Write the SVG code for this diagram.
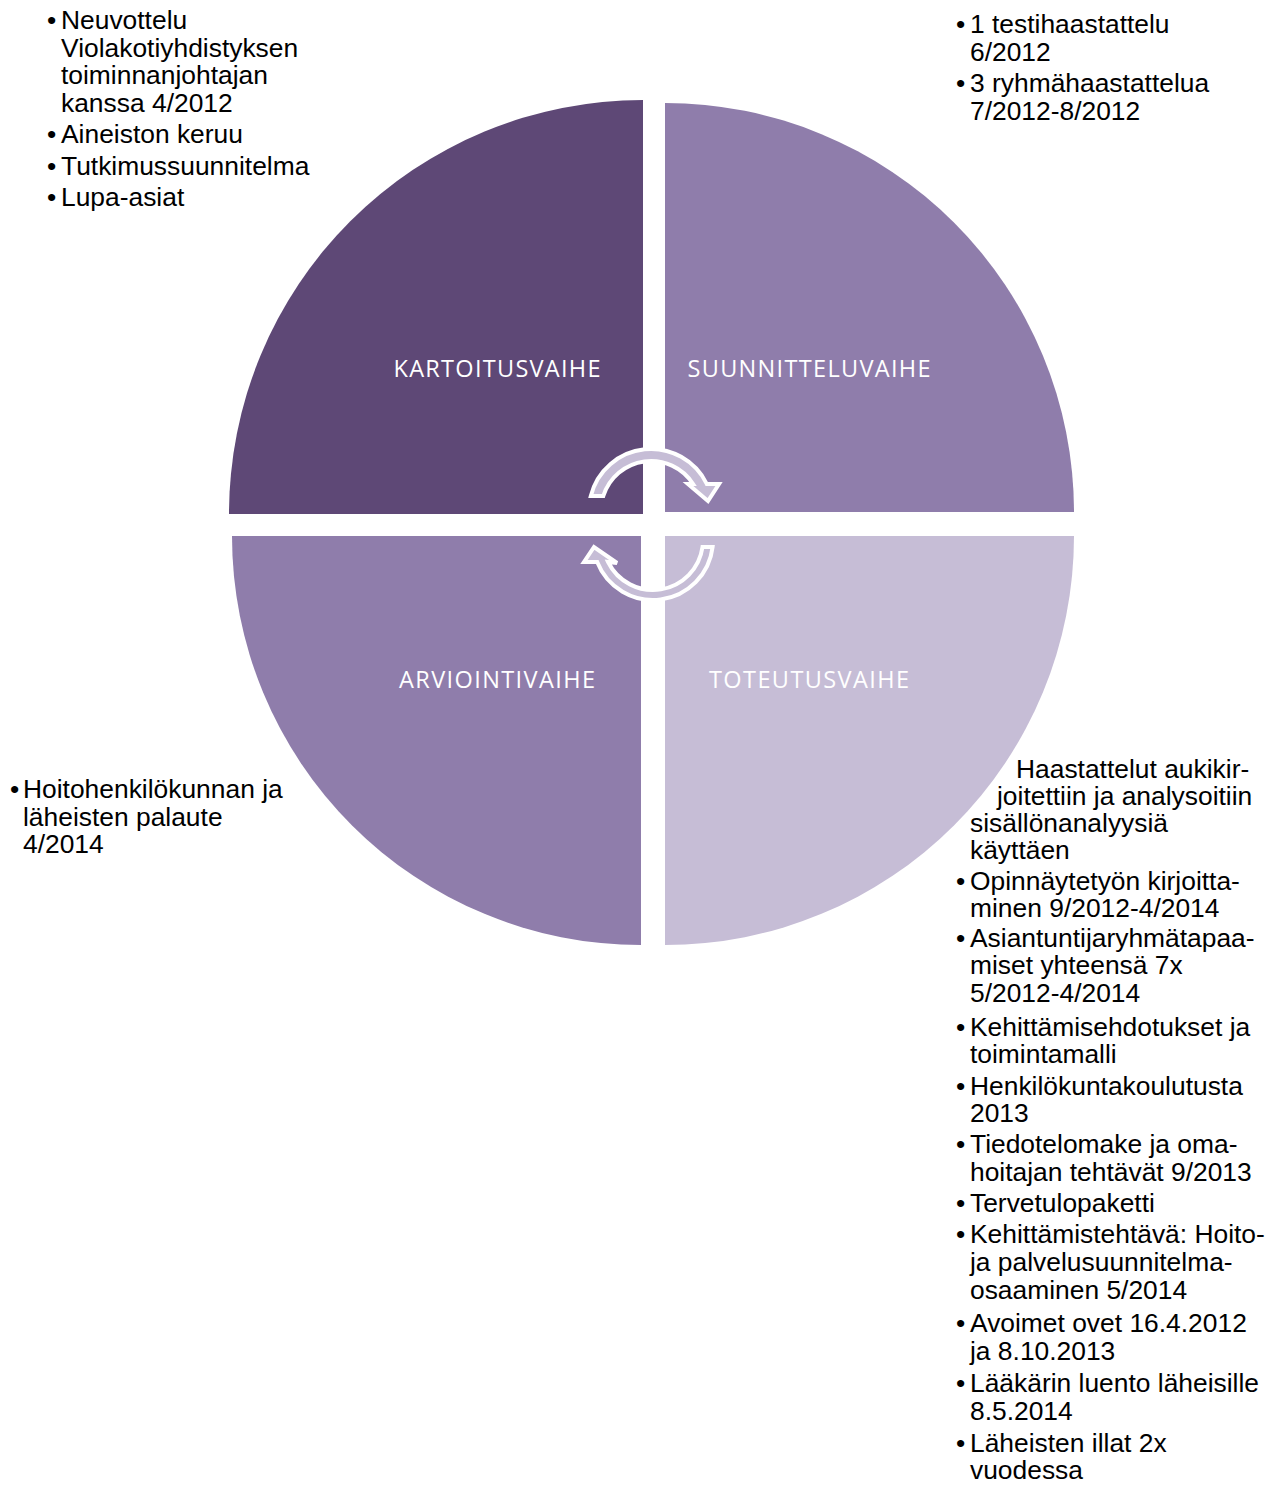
<svg xmlns="http://www.w3.org/2000/svg" width="1270" height="1485" viewBox="0 0 1270 1485">
<style>
.dark{fill:#5E4876}
.mid{fill:#8F7DAB}
.light{fill:#C6BDD6}
.lbl{font-family:"Open Sans","Noto Sans",sans-serif;font-size:23.5px;fill:#FFFFFF;text-anchor:middle}
.txt{font-family:"Liberation Sans",Arial,sans-serif;font-size:26.4px;fill:#000000}
.arrow{fill:#C6BDD6;stroke:#FFFFFF;stroke-width:4;stroke-linejoin:miter}
</style>
<rect x="0" y="0" width="1270" height="1485" fill="#FFFFFF"/>
<g id="kartoitusvaihe">
<path class="dark" d="M643,514 L229,514 A414,414 0 0 1 643,100 Z"/>
<text class="lbl" x="497" y="377" textLength="207" lengthAdjust="spacing">KARTOITUSVAIHE</text>
</g>
<g id="suunnitteluvaihe">
<path class="mid" d="M665,512 L665,103 A409,409 0 0 1 1074,512 Z"/>
<text class="lbl" x="809" y="377" textLength="243" lengthAdjust="spacing">SUUNNITTELUVAIHE</text>
</g>
<g id="toteutusvaihe">
<path class="light" d="M665,536 L1074,536 A409,409 0 0 1 665,945 Z"/>
<text class="lbl" x="809" y="688" textLength="200" lengthAdjust="spacing">TOTEUTUSVAIHE</text>
</g>
<g id="arviointivaihe">
<path class="mid" d="M641,536 L641,945 A409,409 0 0 1 232,536 Z"/>
<text class="lbl" x="497" y="688" textLength="196" lengthAdjust="spacing">ARVIOINTIVAIHE</text>
</g>
<g id="connectors">
<path class="arrow" d="M590.8,496 A62,62 0 0 1 706.8,484 L719,484 L708,501 L688,484 L693.1,484 A50,50 0 0 0 603.3,496 Z"/>
<path class="arrow" d="M712.6,547 A60,60 0 0 1 597.2,562 L584,562 L594,547 L617,563 L608.1,562 A50,50 0 0 0 702.5,547 Z"/>
</g>
<g id="kartoitus-notes" class="txt">
<text x="47" y="29">•</text><text x="61" y="29">Neuvottelu</text>
<text x="61" y="57">Violakotiyhdistyksen</text>
<text x="61" y="84">toiminnanjohtajan</text>
<text x="61" y="112">kanssa 4/2012</text>
<text x="47" y="143">•</text><text x="61" y="143">Aineiston keruu</text>
<text x="47" y="175">•</text><text x="61" y="175">Tutkimussuunnitelma</text>
<text x="47" y="206">•</text><text x="61" y="206">Lupa-asiat</text>
</g>
<g id="suunnittelu-notes" class="txt">
<text x="956" y="33">•</text><text x="970" y="33">1 testihaastattelu</text>
<text x="970" y="61">6/2012</text>
<text x="956" y="92">•</text><text x="970" y="92">3 ryhmähaastattelua</text>
<text x="970" y="120">7/2012-8/2012</text>
</g>
<g id="arviointi-notes" class="txt">
<text x="10" y="798">•</text><text x="23" y="798">Hoitohenkilökunnan ja</text>
<text x="23" y="826">läheisten palaute</text>
<text x="23" y="853">4/2014</text>
</g>
<g id="toteutus-notes" class="txt">
<text x="1016" y="778">Haastattelut aukikir-</text>
<text x="997" y="805">joitettiin ja analysoitiin</text>
<text x="970" y="832">sisällönanalyysiä</text>
<text x="970" y="859">käyttäen</text>
<text x="956" y="890">•</text><text x="970" y="890">Opinnäytetyön kirjoitta-</text>
<text x="970" y="917">minen 9/2012-4/2014</text>
<text x="956" y="947">•</text><text x="970" y="947">Asiantuntijaryhmätapaa-</text>
<text x="970" y="974">miset yhteensä 7x</text>
<text x="970" y="1002">5/2012-4/2014</text>
<text x="956" y="1036">•</text><text x="970" y="1036">Kehittämisehdotukset ja</text>
<text x="970" y="1063">toimintamalli</text>
<text x="956" y="1095">•</text><text x="970" y="1095">Henkilökuntakoulutusta</text>
<text x="970" y="1122">2013</text>
<text x="956" y="1153">•</text><text x="970" y="1153">Tiedotelomake ja oma-</text>
<text x="970" y="1181">hoitajan tehtävät 9/2013</text>
<text x="956" y="1212">•</text><text x="970" y="1212">Tervetulopaketti</text>
<text x="956" y="1243">•</text><text x="970" y="1243">Kehittämistehtävä: Hoito-</text>
<text x="970" y="1271">ja palvelusuunnitelma-</text>
<text x="970" y="1299">osaaminen 5/2014</text>
<text x="956" y="1332">•</text><text x="970" y="1332">Avoimet ovet 16.4.2012</text>
<text x="970" y="1360">ja 8.10.2013</text>
<text x="956" y="1392">•</text><text x="970" y="1392">Lääkärin luento läheisille</text>
<text x="970" y="1420">8.5.2014</text>
<text x="956" y="1452">•</text><text x="970" y="1452">Läheisten illat 2x</text>
<text x="970" y="1479">vuodessa</text>
</g>
</svg>
